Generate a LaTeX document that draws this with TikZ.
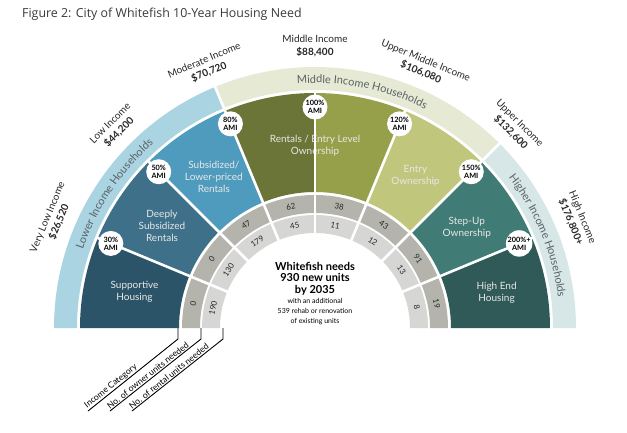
\documentclass[tikz,border=0pt]{standalone}
\usepackage{fontspec}
\setmainfont{Lato}
\newfontfamily\titlefont{Open Sans}
\usetikzlibrary{decorations.text}
\definecolor{cSup}{HTML}{2C5468}
\definecolor{cDeep}{HTML}{3E708A}
\definecolor{cSubs}{HTML}{4F9BBE}
\definecolor{cRentA}{HTML}{6B7538}
\definecolor{cRentB}{HTML}{96A04B}
\definecolor{cEntry}{HTML}{C1C67D}
\definecolor{cStep}{HTML}{407C75}
\definecolor{cHigh}{HTML}{2F5A58}
\definecolor{bLow}{HTML}{AAD4E2}
\definecolor{bMid}{HTML}{E6EAD4}
\definecolor{bHigh}{HTML}{D7E6E6}
\definecolor{rOwn}{HTML}{B4B4AC}
\definecolor{rRent}{HTML}{D6D6D4}
\definecolor{bandtxt}{HTML}{5A6266}
\definecolor{sectxt}{HTML}{E8E8E6}
\definecolor{titletxt}{HTML}{3A3A3A}
\newcommand\ringsector[5]{\fill[#5] (#3:#2) arc[start angle=#3,end angle=#4,radius=#2] -- (#4:#1) arc[start angle=#4,end angle=#3,radius=#1] -- cycle;}
\tikzset{
  sep/.style={white, line width=2.6pt},
  amicircle/.style={circle, fill=white, minimum size=25pt, inner sep=0pt, align=center, font=\bfseries\fontsize{7.3}{7.8}\selectfont, text=black},
  seclabel/.style={align=center, text=sectxt, font=\fontsize{10}{12}\selectfont},
  numlabel/.style={inner sep=0pt, font=\fontsize{8}{8}\selectfont, text=black!85},
  inclabel/.style={align=center, inner sep=0pt, font=\fontsize{10}{12.5}\selectfont, text=black!85},
  leaderlabel/.style={rotate=38.5, anchor=south west, inner sep=1pt, font=\fontsize{8.6}{9}\selectfont},
  leader/.style={black, line width=0.9pt}
}
\begin{document}
\begin{tikzpicture}[x=1pt,y=1pt]
\useasboundingbox (-315,-104) rectangle (312,328);
% title
\node[anchor=base west, inner sep=0pt, font=\titlefont\fontsize{12.4}{14}\selectfont, text=titletxt] (title) at (-293,311) {Figure 2: City of Whitefish 10-Year Housing Need};
% outer bands
\ringsector{238}{261}{112.5}{180}{bLow}
\ringsector{238}{261}{45}{112.5}{bMid}
\ringsector{238}{261}{0}{45}{bHigh}
\draw[sep] (112.5:237) -- (112.5:262);
\draw[sep] (45:237) -- (45:262);
% dark sectors
\ringsector{136}{235}{157.5}{180}{cSup}
\ringsector{136}{235}{135}{157.5}{cDeep}
\ringsector{136}{235}{112.5}{135}{cSubs}
\ringsector{136}{235}{90}{112.5}{cRentA}
\ringsector{136}{235}{67.5}{90}{cRentB}
\ringsector{136}{235}{45}{67.5}{cEntry}
\ringsector{136}{235}{22.5}{45}{cStep}
\ringsector{136}{235}{0}{22.5}{cHigh}
% gray rings
\ringsector{115}{133}{0}{180}{rOwn}
\ringsector{95}{113}{0}{180}{rRent}
% sector labels
\node[seclabel] (sup) at (168.75:184) {Supportive\\Housing};
\node[seclabel] (deep) at (146.25:184) {Deeply\\Subsidized\\Rentals};
\node[seclabel] (subs) at (123.75:182) {Subsidized/\\Lower-priced\\Rentals};
\node[seclabel] (rent) at (90:182) {Rentals / Entry Level\\Ownership};
\node[seclabel] (entry) at (56.5:182) {Entry\\Ownership};
\node[seclabel] (step) at (33.5:182) {Step-Up\\Ownership};
\node[seclabel] (high) at (11:185) {High End\\Housing};
% separators
\foreach \a in {22.5,45,...,157.5} {
  \draw[sep] (\a:134) -- (\a:235.5);
  \draw[sep] (\a:93) -- (\a:134);
}
% AMI circles
\node[amicircle] (ami30) at (157.5:221) {30\%\\AMI};
\node[amicircle] (ami50) at (135:221) {50\%\\AMI};
\node[amicircle] (ami80) at (112.5:221) {80\%\\AMI};
\node[amicircle] (ami100) at (90:221) {100\%\\AMI};
\node[amicircle] (ami120) at (67.5:221) {120\%\\AMI};
\node[amicircle] (ami150) at (45:221) {150\%\\AMI};
\node[amicircle] (ami200) at (22.5:221) {200\%+\\AMI};
% numbers
\foreach \a/\o/\r [count=\i] in {168.75/0/190,146.25/0/130,123.75/47/179,101.25/62/45,78.75/38/11,56.25/43/12,33.75/91/13,11.25/19/8} {
  \node[numlabel, rotate=\a-90] (own\i) at (\a:124) {\o};
  \node[numlabel, rotate=\a-90] (ren\i) at (\a:104) {\r};
}
% income labels
\node[inclabel, rotate=67.5] (inc1) at (157.5:283) {Very Low Income\\\textbf{\$26,520}};
\node[inclabel, rotate=45] (inc2) at (135:283) {Low Income\\\textbf{\$44,200}};
\node[inclabel, rotate=22.5] (inc3) at (112.5:283) {Moderate Income\\\textbf{\$70,720}};
\node[inclabel] (inc4) at (90:282) {Middle Income\\\textbf{\$88,400}};
\node[inclabel, rotate=-22.5] (inc5) at (67.5:283) {Upper Middle Income\\\textbf{\$106,080}};
\node[inclabel, rotate=-45] (inc6) at (45:283) {Upper Income\\\textbf{\$132,600}};
\node[inclabel, rotate=-67.5] (inc7) at (22.5:283) {High Income\\\textbf{\$176,800+}};
% band labels
\path[decorate, decoration={text along path, text align=center, text={|\fontsize{11}{12}\selectfont\color{bandtxt}|Lower Income Households}}] (180:245) arc[start angle=180,end angle=112.5,radius=245];
\path[decorate, decoration={text along path, text align=center, text={|\fontsize{11}{12}\selectfont\color{bandtxt}|Middle Income Households}}] (112.5:245) arc[start angle=112.5,end angle=45,radius=245];
\path[decorate, decoration={text along path, text align=center, text={|\fontsize{11}{12}\selectfont\color{bandtxt}|Higher Income Households}}] (45:245) arc[start angle=45,end angle=0,radius=245];
% center text
\node[align=center, font=\bfseries\fontsize{11}{11.5}\selectfont, text=black] (need) at (0,49.5) {Whitefish needs\\930 new units\\by 2035};
\node[align=center, font=\fontsize{7}{10}\selectfont, text=black] (rehab) at (0,16) {with an additional\\539 rehab or renovation\\of existing units};
% leaders
\coordinate (l1a) at (-137,0); \coordinate (l1b) at (-137,-11); \coordinate (l1c) at (-227,-83);
\coordinate (l2a) at (-114,0); \coordinate (l2b) at (-114,-11); \coordinate (l2c) at (-205,-83);
\coordinate (l3a) at (-92,0); \coordinate (l3b) at (-92,-11); \coordinate (l3c) at (-183,-83);
\draw[leader] (l1a) -- (l1b) -- (l1c);
\draw[leader] (l2a) -- (l2b) -- (l2c);
\draw[leader] (l3a) -- (l3b) -- (l3c);
\node[leaderlabel] (lab1) at (l1c) {Income Category};
\node[leaderlabel] (lab2) at (l2c) {No. of owner units needed};
\node[leaderlabel] (lab3) at (l3c) {No. of rental units needed};
\end{tikzpicture}
\end{document}
